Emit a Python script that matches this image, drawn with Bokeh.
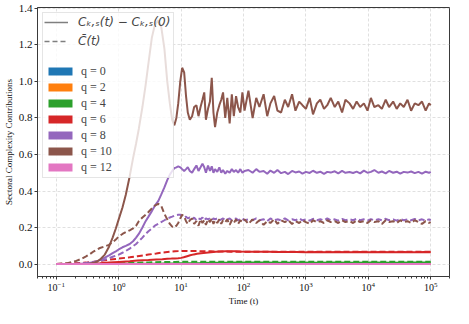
from bokeh.plotting import figure
from bokeh.models import (Range1d, Legend, LegendItem, SingleIntervalTicker,
                          PrintfTickFormatter)
from bokeh.embed import file_html
from bokeh.resources import INLINE

q_labels = ["q = 0", "q = 2", "q = 4", "q = 6", "q = 8", "q = 10", "q = 12"]
q_colors = ["#1f77b4", "#ff7f0e", "#2ca02c", "#d62728", "#9467bd", "#8c564b", "#e377c2"]
style_labels = ["C\u2096,\u209b(t) \u2212 C\u2096,\u209b(0)", "C\u0304(t)"]

# time grids
t_rise = [0.1, 0.15, 0.2, 0.25, 0.3, 0.35, 0.4, 0.45, 0.5, 0.6,
          0.7, 0.8, 0.9, 1.0, 1.15, 1.3, 1.5, 1.7, 1.9, 2.1,
          2.4, 2.7, 3.0, 3.4, 3.8, 4.3, 4.8, 5.4, 6.0, 6.6,
          7.2, 7.8, 8.4, 9.0, 9.7, 10.4, 11.2, 12.0, 12.8, 13.8,
          15.0, 16.2, 17.6, 19.0, 20.5, 22.0, 23.5, 25.0, 27.0, 29.0,
          31.0, 33.0, 35.0, 38.0, 41.0, 44.0, 47.0, 51.0, 55.0, 60.0,
          65.0, 70.0, 76.0, 82.0, 89.0, 96.0, 104.0]
t_late = [120, 140, 160, 180, 210, 240, 270, 310, 350, 400,
          460, 520, 600, 680, 780, 880, 1000, 1150, 1300, 1500,
          1700, 1950, 2200, 2500, 2900, 3300, 3800, 4300, 5000, 5700,
          6500, 7400, 8500, 9700, 11000, 12500, 14500, 16500, 19000, 21500,
          25000, 28500, 32500, 37000, 42500, 48500, 55500, 63500, 72500, 83000,
          94000, 100000]
t_low = [0.1, 0.3, 0.5, 0.7, 1.0, 1.5, 2.0, 3.0, 4.0, 5.0,
         6.0, 7.0, 8.0, 9.0, 10.0, 11.0, 12.5, 14, 16, 18,
         21, 25, 30, 36, 43, 52, 62, 75, 90, 110,
         140, 180, 250, 350, 500, 700, 1000, 1500, 2200, 3300,
         5000, 7500, 11000, 16000, 24000, 36000, 55000, 80000, 100000]
t_green = [0.1, 0.3, 0.5, 1, 2, 3, 5, 8, 12, 20, 30, 50, 80, 130, 200, 400,
           800, 1500, 3000, 6000, 12000, 25000, 50000, 100000]
t_flat = [0.1, 1.0, 10.0, 100.0, 1000.0, 10000.0, 100000.0]

# q = 0
blue_solid = [0.0, 0.0, 0.0, 0.0, 0.0, 0.0, 0.0]
blue_dashed = [0.0, 0.0, 0.0, 0.0, 0.0, 0.0, 0.0]
# q = 2
orange_solid = [0.0, 0.0, 0.0005, 0.0005, 0.0005, 0.0005, 0.0005]
orange_dashed = [0.0, 0.001, 0.002, 0.002, 0.002, 0.002, 0.002]
# q = 4
green_solid = [0.0, 0.0005, 0.001, 0.0015, 0.002, 0.0025, 0.003, 0.004, 0.005, 0.006,
               0.007, 0.0075, 0.008, 0.008, 0.008, 0.0078, 0.008, 0.0079, 0.008, 0.0078,
               0.008, 0.0079, 0.008, 0.008]
green_dashed = [0.0, 0.001, 0.002, 0.004, 0.007, 0.009, 0.011, 0.012, 0.013, 0.013,
                0.013, 0.0128, 0.013, 0.0128, 0.013, 0.0129, 0.013, 0.0128, 0.013, 0.0129,
                0.013, 0.0128, 0.013, 0.013]
# q = 6
red_solid = [0.0, 0.001, 0.004, 0.008, 0.012, 0.016, 0.019, 0.022, 0.025, 0.027,
             0.029, 0.030, 0.031, 0.032, 0.034, 0.037, 0.043, 0.048, 0.053, 0.056,
             0.059, 0.062, 0.065, 0.067, 0.069, 0.070, 0.070, 0.070, 0.069, 0.068,
             0.068, 0.067, 0.067, 0.066, 0.066, 0.066, 0.065, 0.066, 0.065, 0.066,
             0.065, 0.066, 0.065, 0.066, 0.065, 0.066, 0.065, 0.066, 0.065]
red_dashed = [0.0, 0.008, 0.017, 0.024, 0.030, 0.037, 0.043, 0.052, 0.058, 0.063,
              0.066, 0.068, 0.070, 0.071, 0.072, 0.072, 0.072, 0.071, 0.071, 0.071,
              0.070, 0.070, 0.070, 0.069, 0.069, 0.069, 0.068, 0.068, 0.068, 0.068,
              0.068, 0.067, 0.068, 0.067, 0.067, 0.068, 0.067, 0.067, 0.068, 0.067,
              0.067, 0.068, 0.067, 0.067, 0.068, 0.067, 0.067, 0.068, 0.067]
# q = 8
purple_solid_rise = [0.0, 0.0, 0.001, 0.002, 0.004, 0.007, 0.011, 0.016, 0.022, 0.035,
                     0.048, 0.06, 0.07, 0.08, 0.092, 0.10, 0.11, 0.125, 0.145, 0.165,
                     0.20, 0.235, 0.26, 0.29, 0.32, 0.345, 0.38, 0.42, 0.46, 0.49,
                     0.51, 0.525, 0.53, 0.535, 0.53, 0.52, 0.51, 0.52, 0.53, 0.51,
                     0.50, 0.52, 0.54, 0.51, 0.53, 0.55, 0.53, 0.50, 0.54, 0.51,
                     0.535, 0.50, 0.52, 0.505, 0.53, 0.50, 0.515, 0.495, 0.51, 0.50,
                     0.52, 0.505, 0.515, 0.50, 0.52, 0.50, 0.51]
purple_solid_late = [0.515, 0.50, 0.52, 0.505, 0.51, 0.495, 0.512, 0.50, 0.515, 0.498,
                     0.505, 0.493, 0.51, 0.502, 0.507, 0.495, 0.505, 0.499, 0.511, 0.50,
                     0.506, 0.494, 0.505, 0.501, 0.508, 0.497, 0.51, 0.50, 0.504, 0.499,
                     0.506, 0.497, 0.512, 0.50, 0.505, 0.515, 0.50, 0.507, 0.497, 0.51,
                     0.50, 0.506, 0.495, 0.505, 0.501, 0.507, 0.498, 0.505, 0.495, 0.506,
                     0.50, 0.505]
purple_dashed_rise = [0.0, 0.0, 0.002, 0.004, 0.006, 0.009, 0.012, 0.015, 0.018, 0.025,
                      0.032, 0.04, 0.046, 0.052, 0.062, 0.072, 0.085, 0.098, 0.11, 0.125,
                      0.145, 0.165, 0.18, 0.195, 0.21, 0.22, 0.23, 0.24, 0.25, 0.255,
                      0.26, 0.265, 0.268, 0.27, 0.27, 0.265, 0.255, 0.26, 0.25, 0.255,
                      0.245, 0.255, 0.24, 0.25, 0.245, 0.255, 0.24, 0.25, 0.245, 0.25,
                      0.24, 0.25, 0.245, 0.25, 0.24, 0.245, 0.25, 0.24, 0.245, 0.25,
                      0.24, 0.245, 0.25, 0.24, 0.245, 0.25, 0.24]
purple_dashed_late = [0.245, 0.24, 0.25, 0.24, 0.245, 0.235, 0.25, 0.24, 0.245, 0.24,
                      0.25, 0.24, 0.245, 0.24, 0.25, 0.24, 0.245, 0.238, 0.248, 0.24,
                      0.245, 0.24, 0.25, 0.24, 0.245, 0.238, 0.247, 0.24, 0.245, 0.24,
                      0.248, 0.24, 0.245, 0.238, 0.246, 0.24, 0.245, 0.24, 0.248, 0.24,
                      0.245, 0.238, 0.246, 0.24, 0.245, 0.24, 0.247, 0.24, 0.245, 0.238,
                      0.245, 0.24]
# q = 10
brown_solid_rise = [0.0, 0.0, 0.0, 0.0, 0.001, 0.003, 0.007, 0.014, 0.024, 0.052,
                    0.095, 0.145, 0.195, 0.245, 0.31, 0.38, 0.48, 0.58, 0.66, 0.74,
                    0.86, 0.98, 1.10, 1.24, 1.31, 1.335, 1.30, 1.18, 1.00, 0.88,
                    0.79, 0.76, 0.80, 0.88, 1.00, 1.075, 1.05, 0.92, 0.83, 0.79,
                    0.81, 0.86, 0.87, 0.81, 0.86, 0.90, 0.94, 0.79, 0.85, 0.89,
                    1.02, 0.83, 0.75, 0.83, 0.87, 0.90, 0.94, 0.80, 0.91, 0.77,
                    0.93, 0.81, 0.92, 0.86, 0.83, 0.94, 0.84]
brown_solid_late = [0.95, 0.80, 0.91, 0.86, 0.93, 0.81, 0.88, 0.92, 0.84, 0.83,
                    0.90, 0.86, 0.93, 0.84, 0.89, 0.87, 0.85, 0.91, 0.82, 0.88,
                    0.90, 0.85, 0.87, 0.91, 0.86, 0.89, 0.83, 0.90, 0.88, 0.85,
                    0.89, 0.86, 0.88, 0.84, 0.91, 0.86, 0.87, 0.85, 0.90, 0.86,
                    0.89, 0.85, 0.88, 0.86, 0.90, 0.84, 0.88, 0.87, 0.89, 0.84,
                    0.88, 0.87]
brown_dashed_rise = [0.0, 0.005, 0.015, 0.028, 0.042, 0.056, 0.07, 0.08, 0.088, 0.097,
                     0.105, 0.12, 0.135, 0.15, 0.165, 0.175, 0.185, 0.195, 0.21, 0.235,
                     0.255, 0.27, 0.285, 0.305, 0.32, 0.33, 0.32, 0.275, 0.245, 0.22,
                     0.205, 0.20, 0.21, 0.225, 0.25, 0.27, 0.26, 0.235, 0.22, 0.24,
                     0.25, 0.22, 0.235, 0.21, 0.245, 0.225, 0.24, 0.215, 0.245, 0.23,
                     0.25, 0.22, 0.24, 0.225, 0.245, 0.22, 0.24, 0.23, 0.245, 0.215,
                     0.24, 0.225, 0.245, 0.22, 0.24, 0.23, 0.245]
brown_dashed_late = [0.22, 0.245, 0.225, 0.24, 0.215, 0.235, 0.225, 0.245, 0.22, 0.24,
                     0.23, 0.24, 0.22, 0.235, 0.225, 0.24, 0.23, 0.22, 0.24, 0.23,
                     0.235, 0.225, 0.24, 0.23, 0.235, 0.225, 0.24, 0.23, 0.235, 0.225,
                     0.24, 0.23, 0.235, 0.225, 0.24, 0.23, 0.235, 0.22, 0.24, 0.23,
                     0.235, 0.225, 0.24, 0.23, 0.235, 0.225, 0.24, 0.23, 0.22, 0.235,
                     0.225, 0.23]
# q = 12
pink_solid = [0.0, 0.0, 0.0, 0.0, 0.0, 0.0, 0.0]
pink_dashed = [0.0, 0.0, 0.0, 0.0, 0.0, 0.0, 0.0]

series = [
    (t_flat, blue_solid, blue_dashed),
    (t_flat, orange_solid, orange_dashed),
    (t_green, green_solid, green_dashed),
    (t_low, red_solid, red_dashed),
    (t_rise + t_late, purple_solid_rise + purple_solid_late, purple_dashed_rise + purple_dashed_late),
    (t_rise + t_late, brown_solid_rise + brown_solid_late, brown_dashed_rise + brown_dashed_late),
    (t_flat, pink_solid, pink_dashed),
]

SERIF = "Liberation Serif"
AX = "#3a3a3a"

p = figure(width=453, height=308, x_axis_type="log",
           x_range=Range1d(0.05, 2.0e5), y_range=Range1d(-0.068, 1.405),
           output_backend="svg", toolbar_location=None,
           min_border_top=7, min_border_right=4, min_border_left=0, min_border_bottom=0)
p.background_fill_color = "white"
p.border_fill_color = "white"
p.outline_line_color = AX
p.outline_line_width = 1

p.grid.grid_line_color = "#d8d8d8"
p.grid.grid_line_dash = "3 2"
p.grid.grid_line_width = 0.8

for ax in (p.xaxis[0], p.yaxis[0]):
    ax.axis_line_color = AX
    ax.major_tick_line_color = AX
    ax.minor_tick_line_color = AX
    ax.major_tick_in = 0
    ax.minor_tick_in = 0
    ax.major_label_text_font = SERIF
    ax.axis_label_text_font = SERIF
    ax.axis_label_text_font_style = "normal"
    ax.axis_label_text_font_size = "9px"
    ax.major_label_text_color = "#111111"
    ax.axis_label_text_color = "#111111"

p.yaxis.ticker = SingleIntervalTicker(interval=0.2, num_minor_ticks=0)
p.yaxis.formatter = PrintfTickFormatter(format="%.1f")
p.yaxis.major_label_text_font_size = "11px"
p.yaxis.major_tick_out = 3
p.yaxis.major_label_standoff = 2
p.yaxis.axis_label_standoff = 2
p.yaxis.axis_label = "Sectoral Complexity Contributions"

p.xaxis.major_label_text_font_size = "10px"
p.xaxis.major_tick_out = 3
p.xaxis.minor_tick_out = 2
p.xaxis.major_label_standoff = 2
p.xaxis.axis_label_standoff = 2
p.xaxis.axis_label = "Time (t)"

for color, (t, s, d) in zip(q_colors, series):
    p.line(t, s, line_color=color, line_width=2)
    p.line(t, d, line_color=color, line_width=2, line_dash="6 3")

# hidden renderers used only to draw the legend glyphs
style_solid = p.line(t_flat[:1], pink_solid[:1], line_color="#7f7f7f", line_width=1.5, visible=False)
style_dash = p.line(t_flat[:1], pink_solid[:1], line_color="#7f7f7f", line_width=1.5,
                    line_dash="5 3", visible=False)
spacer = p.line(t_flat[:1], pink_solid[:1], line_alpha=0, visible=False)
patches = [p.vbar(x=t_flat[:1], top=pink_solid[:1], width=1, fill_color=c, line_color=None,
                  visible=False) for c in q_colors]

legB = Legend(items=[LegendItem(label=" ", renderers=[spacer]) for _ in range(3)] +
              [LegendItem(label=lab, renderers=[r]) for lab, r in zip(q_labels, patches)],
              location="top_left", margin=5, padding=2, spacing=0,
              label_height=16, label_width=90, glyph_height=10, glyph_width=30,
              label_standoff=6, label_text_font=SERIF, label_text_font_size="12px",
              background_fill_color="white", background_fill_alpha=0.8,
              border_line_color="#cccccc", border_line_width=1,
              inactive_fill_alpha=0)
legA = Legend(items=[LegendItem(label=style_labels[0], renderers=[style_solid]),
                     LegendItem(label=style_labels[1], renderers=[style_dash])],
              location="top_left", margin=7, padding=2, spacing=3,
              label_height=16, glyph_height=16, glyph_width=24, label_standoff=10,
              label_text_font="DejaVu Sans", label_text_font_style="italic",
              label_text_font_size="12px",
              background_fill_alpha=0, border_line_color=None, inactive_fill_alpha=0)
p.add_layout(legB)
p.add_layout(legA)

open("out.html", "w").write(file_html(p, INLINE))
